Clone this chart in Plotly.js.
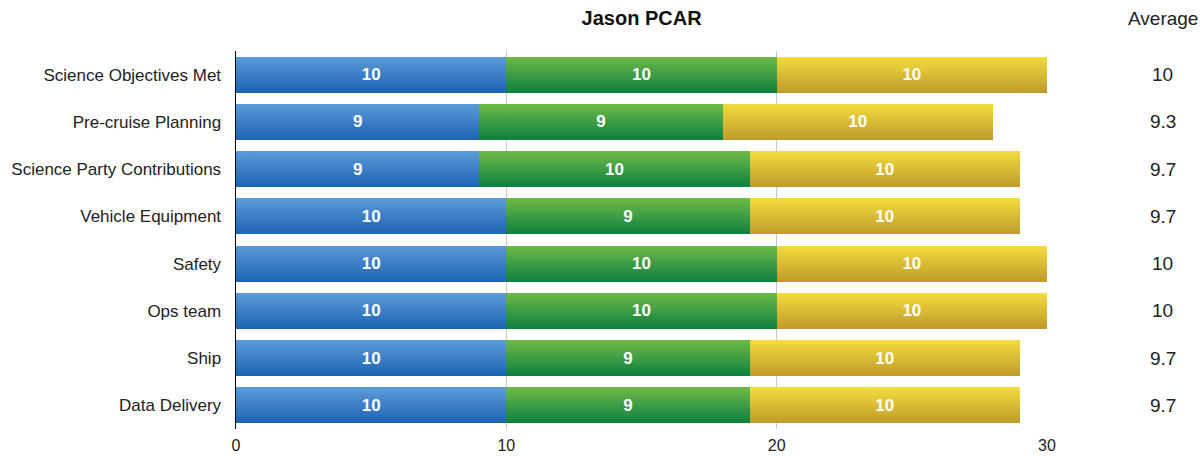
<!DOCTYPE html>
<html>
<head>
<meta charset="utf-8">
<script src="https://cdn.plot.ly/plotly-3.0.1.min.js"></script>
<style>html,body{margin:0;padding:0;background:#fff;}#chart{width:1202px;height:459px;}</style>
</head>
<body>
<div id="chart"></div>
<script>
const categories = ["Science Objectives Met","Pre-cruise Planning","Science Party Contributions","Vehicle Equipment","Safety","Ops team","Ship","Data Delivery"];
const series1 = [10,9,9,10,10,10,10,10];
const series2 = [10,9,10,9,10,10,9,9];
const series3 = [10,10,10,10,10,10,10,10];
const averages = ["10","9.3","9.7","9.7","10","10","9.7","9.7"];
const xTicks = [0,10,20,30];

const colors = ["#3a7ec8","#3a9e47","#dbbf30"];
const grads = [["#5d9bd8","#1c63b3"],["#70ba47","#0c7f40"],["#f2dd3d","#c09a2a"]];
const font = "Liberation Sans, Arial, Helvetica, sans-serif";

function mk(vals, i){
  return {type:"bar", orientation:"h", y:categories, x:vals, text:vals.map(String),
    textposition:"inside", insidetextanchor:"middle",
    textfont:{color:"#ffffff", size:17, family:font, weight:"bold"},
    marker:{color:colors[i], line:{width:0}}, hoverinfo:"x+y", showlegend:false};
}
const data = [mk(series1,0), mk(series2,1), mk(series3,2)];

const annotations = categories.map((c,i)=>({xref:"paper", yref:"y", x:1.143, y:c, text:averages[i],
  showarrow:false, xanchor:"center", font:{size:19, color:"#222", family:font}}));
annotations.push({xref:"paper", yref:"paper", x:1.143, y:1, yshift:33, text:"Average", showarrow:false,
  xanchor:"center", yanchor:"middle", font:{size:19, color:"#222", family:font}});

const layout = {
  width:1202, height:459,
  margin:{l:236, r:155, t:51, b:30},
  paper_bgcolor:"#fff", plot_bgcolor:"#fff",
  barmode:"stack", bargap:0.235,
  title:{text:"<b>Jason PCAR</b>", x:0.5338, xref:"container", y:1-18/459, yref:"container", xanchor:"center", yanchor:"middle", font:{size:20, color:"#111", family:font}},
  xaxis:{range:[0,30], tickvals:xTicks, ticktext:xTicks.map(String), showgrid:true, gridcolor:"#c8c8c8", gridwidth:1,
    zeroline:false, showline:false, ticks:"", tickfont:{size:16, color:"#222", family:font}, ticklabelstandoff:5, fixedrange:true},
  yaxis:{autorange:"reversed", showline:true, linecolor:"#000", linewidth:1.5, showgrid:false, zeroline:false, ticks:"",
    tickfont:{size:17, color:"#222", family:font}, ticklabelstandoff:10, fixedrange:true},
  annotations:annotations,
  font:{family:font}
};

Plotly.newPlot("chart", data, layout, {displayModeBar:false, staticPlot:true}).then(gd=>{
  const svg = gd.querySelector("svg.main-svg");
  const ns = "http://www.w3.org/2000/svg";
  let defs = svg.querySelector("defs");
  if(!defs){defs = document.createElementNS(ns,"defs"); svg.insertBefore(defs, svg.firstChild);}
  grads.forEach((g,i)=>{
    const lg = document.createElementNS(ns,"linearGradient");
    lg.setAttribute("id","bargrad"+i); lg.setAttribute("x1","0"); lg.setAttribute("y1","0"); lg.setAttribute("x2","0"); lg.setAttribute("y2","1");
    [[0,g[0]],[1,g[1]]].forEach(([o,c])=>{const s=document.createElementNS(ns,"stop"); s.setAttribute("offset",o); s.setAttribute("stop-color",c); lg.appendChild(s);});
    defs.appendChild(lg);
  });
  gd.querySelectorAll(".barlayer .trace").forEach((tr,i)=>{
    tr.querySelectorAll("path").forEach(p=>{p.style.fill="url(#bargrad"+i+")";});
  });
});
</script>
</body>
</html>
